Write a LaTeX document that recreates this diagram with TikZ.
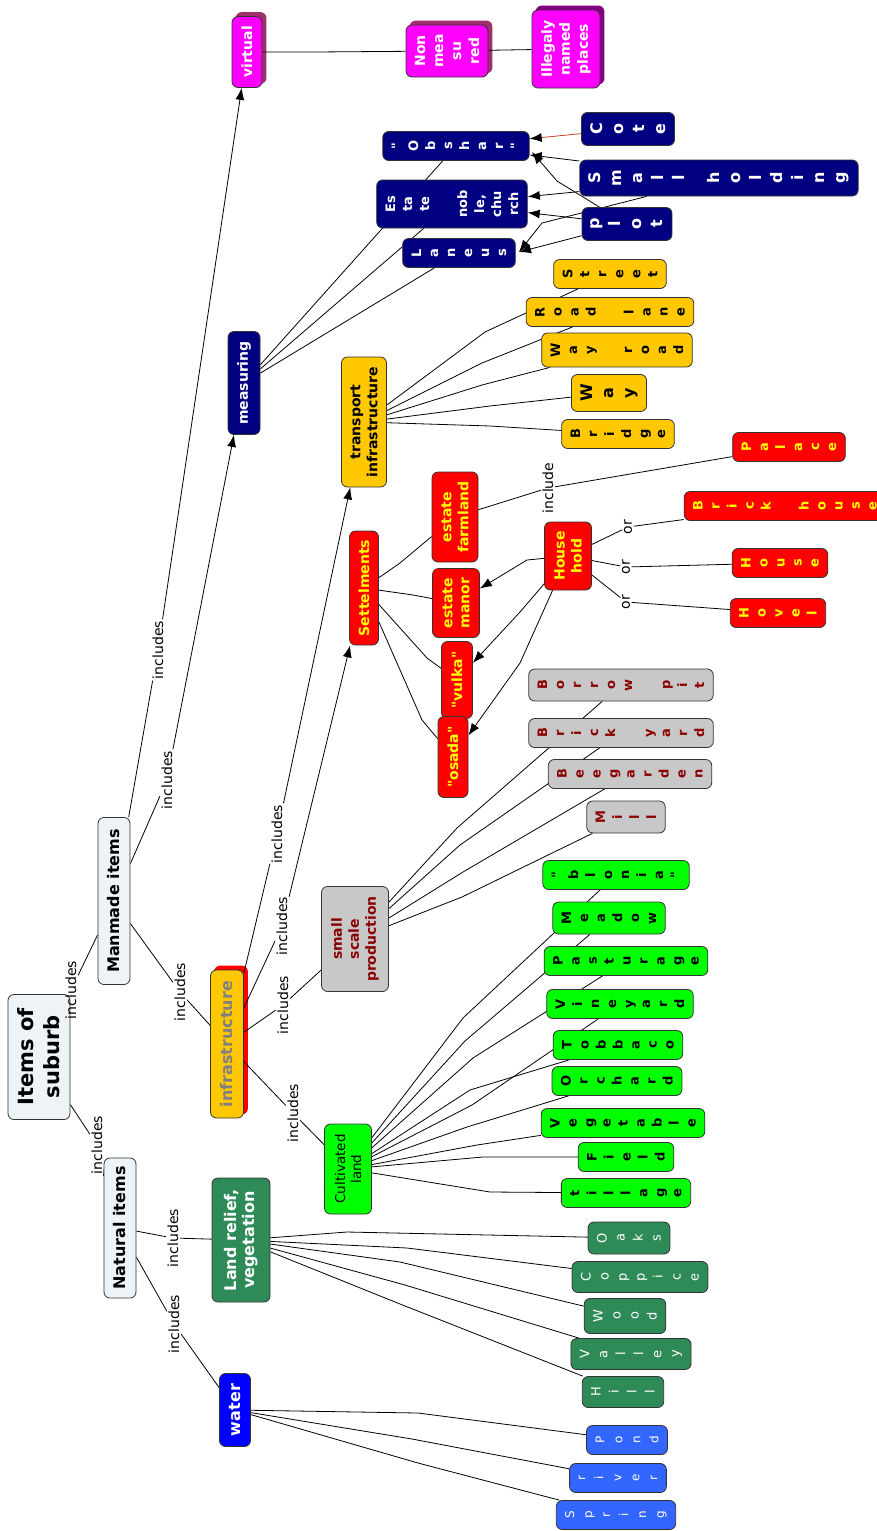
\documentclass[tikz,border=0pt]{standalone}
\usepackage{fontspec}
\setmainfont{DejaVu Sans}
\newfontfamily\qfont{DejaVu Sans}
\newcommand{\straightq}{{\qfont"}}
\usetikzlibrary{arrows.meta}
\pgfdeclarelayer{background}
\pgfsetlayers{background,main}

\definecolor{topfill}{HTML}{EDF3F6}
\definecolor{magc}{HTML}{FF00FF}
\definecolor{magshadow}{HTML}{A0306A}
\definecolor{purpshadow}{HTML}{800080}
\definecolor{navyc}{HTML}{000080}
\definecolor{goldc}{HTML}{FFC800}
\definecolor{redc}{HTML}{FF0000}
\definecolor{yelc}{HTML}{FFFF00}
\definecolor{grayc}{HTML}{C8C8C8}
\definecolor{dredc}{HTML}{8B0000}
\definecolor{greenc}{HTML}{00FF00}
\definecolor{seac}{HTML}{2E8B57}
\definecolor{bluec}{HTML}{0000FF}
\definecolor{lbluec}{HTML}{3366FF}
\definecolor{brownc}{HTML}{C0461E}
\definecolor{infratext}{HTML}{808080}

\tikzset{
  concept/.style={rectangle, rounded corners=6pt, draw=black!80, line width=0.8pt, rotate=90, align=center},
  sz/.style 2 args={minimum height=#1, minimum width=#2},
  midnode/.style={concept, font=\bfseries\fontsize{14}{17}\selectfont},
  bignode/.style={concept, font=\bfseries\fontsize{16}{18}\selectfont},
  leaf/.style={concept, minimum width=29pt, inner xsep=2pt, inner ysep=9pt, font=\bfseries\fontsize{13}{17}\selectfont},
  bigleaf/.style={minimum width=33pt, font=\bfseries\fontsize{16}{21}\selectfont},
  thinleaf/.style={leaf, minimum width=31pt, font=\fontsize{13}{18}\selectfont},
  navyleaf/.style={leaf, fill=navyc, text=white},
  goldleaf/.style={leaf, fill=goldc},
  redleaf/.style={leaf, fill=redc, text=yelc},
  grayleaf/.style={leaf, fill=grayc, text=dredc},
  greenleaf/.style={leaf, fill=greenc},
  sealeaf/.style={thinleaf, fill=seac, text=white},
  waterleaf/.style={thinleaf, minimum width=29pt, fill=lbluec, text=white, font=\fontsize{12}{18}\selectfont},
  lab/.style={rotate=90, inner sep=1.5pt, font=\fontsize{14}{16}\selectfont},
  link/.style={line width=0.8pt},
  arr/.style={-{Latex[length=12pt,width=9pt]}},
}

\begin{document}
\begin{tikzpicture}[x=1pt, y=-1pt]
\useasboundingbox (0,0) rectangle (877,1531);

% top level
\node[bignode, fill=topfill, sz={62}{125}, font=\bfseries\fontsize{21}{26}\selectfont] (root) at (39,1057) {Items of\\suburb};
\node[bignode, fill=topfill, sz={32}{167}] (manmade) at (114,901) {Manmade items};
\node[bignode, fill=topfill, sz={32}{140}] (natural) at (120,1228) {Natural items};

% virtual
\node[midnode, fill=magc, text=white, sz={30}{71}] (virtual) at (247,52) {virtual};
\node[midnode, fill=magc, text=white, sz={82}{52}, font=\bfseries\fontsize{14}{18}\selectfont] (nonmeas) at (447,51) {Non\\mea\\su\\red};
\node[midnode, fill=magc, text=white, sz={68}{78}, font=\bfseries\fontsize{14}{18}\selectfont] (illegal) at (566,49) {Illegaly\\named\\places};

% measuring
\node[midnode, fill=navyc, text=white, sz={32}{103}] (measuring) at (244,383) {measuring};
\node[navyleaf] (obshar) at (456,146) {\straightq\\O\\b\\s\\h\\a\\r\\\straightq};
\node[navyleaf, minimum width=48pt] (estate) at (452,204) {Es\\ta\\te\\[21pt]nob\\le,\\chu\\rch};
\node[navyleaf] (laneus) at (459,253) {L\\a\\n\\e\\u\\s};
\node[navyleaf, bigleaf] (cote) at (628,129) {C\\o\\t\\e};
\node[navyleaf, bigleaf, minimum width=36pt] (smallhold) at (719,178) {S\\m\\a\\l\\l\\[14pt]h\\o\\l\\d\\i\\n\\g};
\node[navyleaf, bigleaf] (plot) at (627,224) {p\\l\\o\\t};

% transport
\node[midnode, fill=goldc, sz={45}{130}] (transport) at (364,422) {transport\\infrastructure};
\node[goldleaf] (street) at (610,274) {S\\t\\r\\e\\e\\t};
\node[goldleaf] (roadlane) at (610,312) {R\\o\\a\\d\\[21pt]l\\a\\n\\e};
\node[goldleaf, minimum width=34pt] (wayroad) at (617,350) {W\\a\\y\\[21pt]r\\o\\a\\d};
\node[goldleaf, bigleaf, minimum width=37pt] (way) at (609,393) {W\\a\\y};
\node[goldleaf] (bridge) at (618,434) {B\\r\\i\\d\\g\\e};

% settlements
\node[midnode, fill=redc, text=yelc, sz={29}{114}] (settle) at (364,588) {Settelments};
\node[midnode, fill=redc, text=yelc, sz={46}{90}] (farmland) at (455,517) {estate\\farmland};
\node[midnode, fill=redc, text=yelc, sz={47}{69}] (manor) at (456,603) {estate\\manor};
\node[midnode, fill=redc, text=yelc, sz={31}{77}] (vulka) at (457,680) {\straightq vulka\straightq};
\node[midnode, fill=redc, text=yelc, sz={30}{81}] (osada) at (453,757) {\straightq osada\straightq};
\node[midnode, fill=redc, text=yelc, sz={47}{68}] (household) at (568,556) {House\\hold};
\node[redleaf] (palace) at (789,447) {P\\a\\l\\a\\c\\e};
\node[redleaf] (brickhouse) at (785,506) {B\\r\\i\\c\\k\\[21pt]h\\o\\u\\s\\e};
\node[redleaf] (house) at (780,563) {H\\o\\u\\s\\e};
\node[redleaf] (hovel) at (778,613) {H\\o\\v\\e\\l};

% small scale production
\node[midnode, fill=grayc, text=dredc, sz={67}{105}] (smallprod) at (355,939) {small\\scale\\production};
\node[grayleaf, minimum width=32pt] (borrow) at (621,685) {B\\o\\r\\r\\o\\w\\[21pt]p\\i\\t};
\node[grayleaf] (brickyard) at (621,733) {B\\r\\i\\c\\k\\[21pt]y\\a\\r\\d};
\node[grayleaf] (beegarden) at (630,774) {B\\e\\e\\g\\a\\r\\d\\e\\n};
\node[grayleaf, minimum width=32pt] (mill) at (626,817) {M\\i\\l\\l};

% cultivated land
\node[concept, fill=greenc, sz={47}{90}, font=\fontsize{13.5}{16}\selectfont] (cultivated) at (348,1169) {Cultivated\\land};
\node[greenleaf] (bloni) at (616,875) {\straightq\\b\\l\\o\\n\\i\\a\\\straightq};
\node[greenleaf, minimum width=32pt] (meadow) at (609,918) {M\\e\\a\\d\\o\\w};
\node[greenleaf] (pasturage) at (626,961) {P\\a\\s\\t\\u\\r\\a\\g\\e};
\node[greenleaf] (vineyard) at (620,1004) {V\\i\\n\\e\\y\\a\\r\\d};
\node[greenleaf] (tobbaco) at (618,1045) {T\\o\\b\\b\\a\\c\\o};
\node[greenleaf] (orchard) at (617,1081) {O\\r\\c\\h\\a\\r\\d};
\node[greenleaf] (vegetable) at (623,1123) {V\\e\\g\\e\\t\\a\\b\\l\\e};
\node[greenleaf] (field) at (626,1157) {F\\i\\e\\l\\d};
\node[greenleaf] (tillage) at (626,1193) {t\\i\\l\\l\\a\\g\\e};

% infrastructure
\node[bignode, fill=goldc, text=infratext, sz={33}{148}] (infra) at (227,1044) {infrastructure};

% natural items
\node[bignode, fill=seac, text=white, sz={58}{124}] (landrelief) at (241,1240) {Land relief,\\vegetation};
\node[sealeaf, minimum width=32pt] (oaks) at (629,1238) {O\\a\\k\\s};
\node[sealeaf] (coppice) at (640,1277) {C\\o\\p\\p\\i\\c\\e};
\node[sealeaf, minimum width=35pt] (wood) at (625,1316) {W\\o\\o\\d};
\node[sealeaf] (valley) at (631,1354) {V\\a\\l\\l\\e\\y};
\node[sealeaf] (hill) at (623,1392) {H\\i\\l\\l};
\node[bignode, fill=bluec, text=white, sz={31}{73}] (water) at (235,1410) {water};
\node[waterleaf] (pond) at (627,1440) {P\\o\\n\\d};
\node[waterleaf] (river) at (618,1478) {r\\i\\v\\e\\r};
\node[waterleaf] (spring) at (616,1515) {S\\p\\r\\i\\n\\g};

% linking words
\node[lab] (inc1) at (71,990) {includes};
\node[lab] (inc2) at (97,1145) {includes};
\node[lab] (inc3) at (158,650) {includes};
\node[lab] (inc4) at (167,780) {includes};
\node[lab] (inc5) at (180,992) {includes};
\node[lab] (inc6) at (277,834) {includes};
\node[lab] (inc7) at (282,926) {includes};
\node[lab] (inc8) at (283,1005) {includes};
\node[lab] (inc9) at (293,1113) {includes};
\node[lab] (inc10) at (173,1238) {includes};
\node[lab] (inc11) at (174,1324) {includes};
\node[lab] (incl) at (548,488) {include};
\node[lab] (or1) at (628,527) {or};
\node[lab] (or2) at (626,567) {or};
\node[lab] (or3) at (626,602) {or};

% bend points of the links
\coordinate (mnm) at (315,52);
\coordinate (mil) at (505,50);
\coordinate (mpo) at (557,181);
\coordinate (msl) at (542,223);
\coordinate (obin) at (532,152);
\coordinate (lanin) at (519,252);
\coordinate (ts1) at (485,332);
\coordinate (ts2) at (482,363);
\coordinate (ts3) at (482,385);
\coordinate (ts4) at (490,406);
\coordinate (ts5) at (490,426);
\coordinate (se1) at (400,563);
\coordinate (se2) at (413,595);
\coordinate (se3) at (427,658);
\coordinate (se4) at (422,720);
\coordinate (hh1) at (527,560);
\coordinate (hh2) at (520,612);
\coordinate (hh3) at (520,663);
\coordinate (sp1) at (457,828);
\coordinate (sp2) at (460,845);
\coordinate (sp3) at (463,872);
\coordinate (sp4) at (462,897);
\coordinate (cl1) at (463,1018);
\coordinate (cl2) at (465,1041);
\coordinate (cl3) at (473,1058);
\coordinate (cl4) at (472,1105);
\coordinate (cl5) at (470,1090);
\coordinate (cl6) at (467,1127);
\coordinate (cl7) at (477,1145);
\coordinate (cl8) at (483,1157);
\coordinate (cl9) at (490,1192);
\coordinate (lr1) at (347,1232);
\coordinate (lr2) at (407,1248);
\coordinate (lr3) at (400,1262);
\coordinate (lr4) at (405,1285);
\coordinate (lr5) at (400,1304);
\coordinate (wa1) at (418,1413);
\coordinate (wa2) at (412,1439);
\coordinate (wa3) at (418,1463);

\begin{pgfonlayer}{background}
% shadows
\foreach \n/\c in {virtual/magshadow, nonmeas/magshadow, illegal/purpshadow, infra/redc}
  \fill[\c, rounded corners=6pt] ([shift={(4,-4)}]\n.south west) rectangle ([shift={(4,-4)}]\n.north east);

% main links
\draw[link] (inc1) -- (manmade);
\draw[link, -{Latex[length=7pt,width=5pt]}] (root) -- (inc2) -- (natural);
\draw[link, arr] (manmade) -- (inc3) -- (virtual);
\draw[link, arr] (manmade) -- (inc4) -- (measuring);
\draw[link] (manmade) -- (inc5) -- (infra);
\draw[link, arr] (infra) -- (inc6) -- (transport);
\draw[link, arr] (infra) -- (inc7) -- (settle);
\draw[link] (infra) -- (inc8) -- (smallprod);
\draw[link] (infra) -- (inc9) -- (cultivated);
\draw[link] (natural) -- (inc10) -- (landrelief);
\draw[link] (natural) -- (inc11) -- (water);

% virtual
\draw[link] (virtual) -- (mnm) -- (nonmeas);
\draw[link] (nonmeas) -- (mil) -- (illegal);

% measuring
\foreach \t in {obshar, estate, laneus}
  \draw[link] (measuring) -- (\t);
\draw[link, draw=brownc, -{Latex[length=12pt,width=9pt,color=black]}] (cote) -- (obshar);
\draw[link, arr] (smallhold) -- (obshar);
\draw[link, arr] (smallhold) -- (estate);
\draw[link, arr] (smallhold) -- (msl) -- (lanin);
\draw[link, arr] (plot) -- (mpo) -- (obin);
\draw[link, arr] (plot) -- (estate);
\draw[link, arr] (plot) -- (lanin);

% transport
\foreach \t/\m in {street/ts1, roadlane/ts2, wayroad/ts3, way/ts4, bridge/ts5}
  \draw[link] (transport) -- (\m) -- (\t);

% settlements
\foreach \t/\m in {farmland/se1, manor/se2, vulka/se3, osada/se4}
  \draw[link] (settle) -- (\m) -- (\t);
\foreach \t/\m in {manor/hh1, vulka/hh2, osada/hh3}
  \draw[link, arr] (household) -- (\m) -- (\t);
\draw[link] (farmland) -- (incl) -- (palace);
\draw[link] (household) -- (or1) -- (brickhouse);
\draw[link] (household) -- (or2) -- (house);
\draw[link] (household) -- (or3) -- (hovel);

% small scale production
\foreach \t/\m in {borrow/sp1, brickyard/sp2, beegarden/sp3, mill/sp4}
  \draw[link] (smallprod) -- (\m) -- (\t);

% cultivated land
\foreach \t/\m in {bloni/cl1, meadow/cl2, pasturage/cl3, vineyard/cl4, tobbaco/cl5, orchard/cl6, vegetable/cl7, field/cl8, tillage/cl9}
  \draw[link] (cultivated) -- (\m) -- (\t);

% land relief and water
\foreach \t/\m in {oaks/lr1, coppice/lr2, wood/lr3, valley/lr4, hill/lr5}
  \draw[link] (landrelief) -- (\m) -- (\t);
\foreach \t/\m in {pond/wa1, river/wa2, spring/wa3}
  \draw[link] (water) -- (\m) -- (\t);
\end{pgfonlayer}
\end{tikzpicture}
\end{document}
